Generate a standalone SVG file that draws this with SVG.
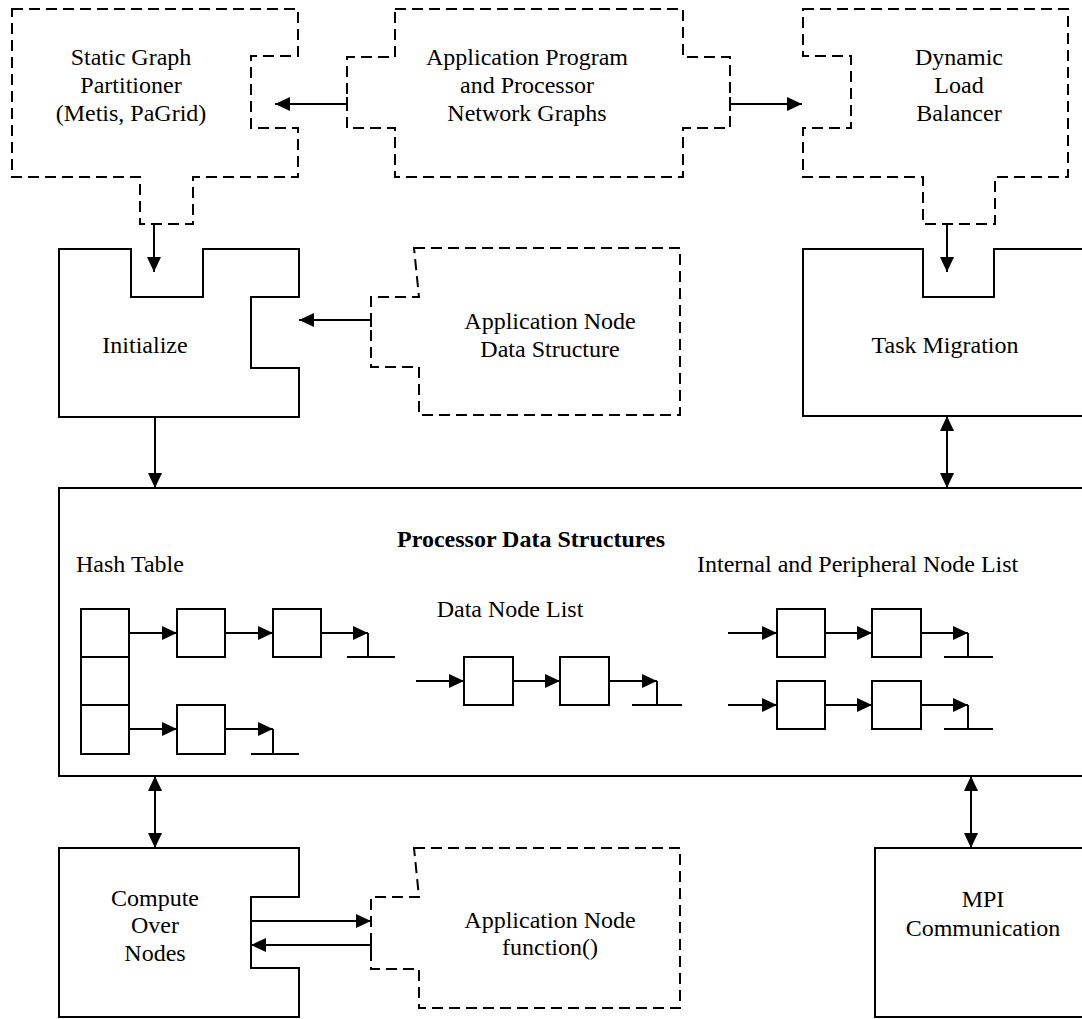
<svg xmlns="http://www.w3.org/2000/svg" width="1082" height="1019" viewBox="0 0 1082 1019">
<style>
.bg{fill:#fff}
.solid{fill:#fff;stroke:#000;stroke-width:2}
.dash{fill:#fff;stroke:#000;stroke-width:2;stroke-dasharray:11,6}
.conn{fill:none;stroke:#000;stroke-width:2}
.t{font-family:"Liberation Serif","Times New Roman",serif;font-size:24px;fill:#000;text-anchor:middle}
.tl{font-family:"Liberation Serif","Times New Roman",serif;font-size:24px;fill:#000}
.tb{font-weight:bold}
</style>
<defs>
<marker id="arr" viewBox="0 0 15 14" refX="15" refY="7" markerWidth="15" markerHeight="14" markerUnits="userSpaceOnUse" orient="auto-start-reverse"><path d="M0,0 L15,7 L0,14 Z" fill="#000"/></marker>
<marker id="tick" viewBox="0 0 2 14" refX="1" refY="7" markerWidth="2" markerHeight="14" markerUnits="userSpaceOnUse" orient="auto"><path d="M1,0 V14" stroke="#000" stroke-width="2"/></marker>
</defs>
<rect class="bg" x="0" y="0" width="1082" height="1019"/>

<g id="static-graph-partitioner">
<path class="dash" d="M12,9 H298 V56 H251 V128 H298 V177 H193 V224 H140 V177 H12 Z"/>
<text class="t" x="131" y="65">Static Graph</text>
<text class="t" x="131" y="93">Partitioner</text>
<text class="t" x="131" y="121">(Metis, PaGrid)</text>
</g>

<g id="application-program">
<path class="dash" d="M395,9 H683 V57 H730 V128 H683 V177 H395 V128 H347 V57 H395 Z"/>
<text class="t" x="527" y="65">Application Program</text>
<text class="t" x="527" y="93">and Processor</text>
<text class="t" x="527" y="121">Network Graphs</text>
</g>

<g id="dynamic-load-balancer">
<path class="dash" d="M803,9 H1068 V177 H995 V224 H923 V177 H803 V128 H851 V56 H803 Z"/>
<text class="t" x="959" y="65">Dynamic</text>
<text class="t" x="959" y="93">Load</text>
<text class="t" x="959" y="121">Balancer</text>
</g>

<g id="initialize">
<path class="solid" d="M59,249 H131 V297 H203 V249 H299 V297 H251 V368 H299 V417 H59 Z"/>
<text class="t" x="145" y="353">Initialize</text>
</g>

<g id="application-node-data-structure">
<path class="dash" d="M414,248 H680 V415 H419 V367 H371 V297 H419 Z"/>
<text class="t" x="550" y="329">Application Node</text>
<text class="t" x="550" y="357">Data Structure</text>
</g>

<g id="task-migration">
<path class="solid" d="M803,249 H923 V297 H994 V249 H1090 V416 H803 Z"/>
<text class="t" x="945" y="353">Task Migration</text>
</g>

<g id="processor-data-structures">
<path class="solid" d="M59,488 H1090 V776 H59 Z"/>
<text class="t tb" x="531" y="547">Processor Data Structures</text>
<text class="tl" x="76" y="572">Hash Table</text>
<text class="tl" x="697" y="572">Internal and Peripheral Node List</text>
<text class="t" x="510" y="617">Data Node List</text>
<g id="hash-table">
<rect class="solid" x="81" y="609" width="48" height="48"/>
<rect class="solid" x="81" y="657" width="48" height="48"/>
<rect class="solid" x="81" y="705" width="48" height="49"/>
<rect class="solid" x="177" y="609" width="48" height="48"/>
<rect class="solid" x="273" y="609" width="48" height="48"/>
<rect class="solid" x="177" y="705" width="48" height="49"/>
<path class="conn" d="M129,633 H177" marker-end="url(#arr)"/>
<path class="conn" d="M225,633 H273" marker-end="url(#arr)"/>
<path class="conn" d="M321,633 H368" marker-end="url(#arr)"/>
<path class="conn" d="M368,633 V657 M347,657 H395"/>
<path class="conn" d="M129,729 H177" marker-end="url(#arr)"/>
<path class="conn" d="M225,729 H273" marker-end="url(#arr)"/>
<path class="conn" d="M273,729 V754 M251,754 H299"/>
</g>
<g id="data-node-list">
<rect class="solid" x="464" y="657" width="49" height="48"/>
<rect class="solid" x="560" y="657" width="49" height="48"/>
<path class="conn" d="M416,681 H464" marker-end="url(#arr)"/>
<path class="conn" d="M513,681 H560" marker-end="url(#arr)"/>
<path class="conn" d="M609,681 H657" marker-end="url(#arr)"/>
<path class="conn" d="M657,681 V705 M632,705 H682"/>
</g>
<g id="node-lists">
<rect class="solid" x="777" y="609" width="48" height="48"/>
<rect class="solid" x="872" y="609" width="49" height="48"/>
<rect class="solid" x="777" y="681" width="48" height="48"/>
<rect class="solid" x="872" y="681" width="49" height="48"/>
<path class="conn" d="M728,633 H777" marker-end="url(#arr)"/>
<path class="conn" d="M825,633 H872" marker-end="url(#arr)"/>
<path class="conn" d="M921,633 H968" marker-end="url(#arr)"/>
<path class="conn" d="M968,633 V657 M944,657 H993"/>
<path class="conn" d="M728,705 H777" marker-end="url(#arr)"/>
<path class="conn" d="M825,705 H872" marker-end="url(#arr)"/>
<path class="conn" d="M921,705 H968" marker-end="url(#arr)"/>
<path class="conn" d="M968,705 V729 M944,729 H993"/>
</g>
</g>

<g id="compute-over-nodes">
<path class="solid" d="M59,848 H299 V897 H251 V968 H299 V1017 H59 Z"/>
<text class="t" x="155" y="906">Compute</text>
<text class="t" x="155" y="933">Over</text>
<text class="t" x="155" y="961">Nodes</text>
</g>

<g id="application-node-function">
<path class="dash" d="M414,848 H680 V1008 H419 V969 H371 V897 H419 Z"/>
<text class="t" x="550" y="928">Application Node</text>
<text class="t" x="550" y="955">function()</text>
</g>

<g id="mpi-communication">
<path class="solid" d="M875,848 H1090 V1017 H875 Z"/>
<text class="t" x="983" y="907">MPI</text>
<text class="t" x="983" y="936">Communication</text>
</g>

<g id="connectors">
<path class="conn" d="M347,104 H275" marker-start="url(#tick)" marker-end="url(#arr)"/>
<path class="conn" d="M730,104 H802" marker-start="url(#tick)" marker-end="url(#arr)"/>
<path class="conn" d="M154,224 V272" marker-end="url(#arr)"/>
<path class="conn" d="M947,224 V272" marker-end="url(#arr)"/>
<path class="conn" d="M371,320 H299" marker-start="url(#tick)" marker-end="url(#arr)"/>
<path class="conn" d="M155,417 V488" marker-end="url(#arr)"/>
<path class="conn" d="M947,416 V488" marker-start="url(#arr)" marker-end="url(#arr)"/>
<path class="conn" d="M155,776 V848" marker-start="url(#arr)" marker-end="url(#arr)"/>
<path class="conn" d="M971,776 V848" marker-start="url(#arr)" marker-end="url(#arr)"/>
<path class="conn" d="M251,921 H371" marker-end="url(#arr)"/>
<path class="conn" d="M371,945 H251" marker-start="url(#tick)" marker-end="url(#arr)"/>
</g>
</svg>
